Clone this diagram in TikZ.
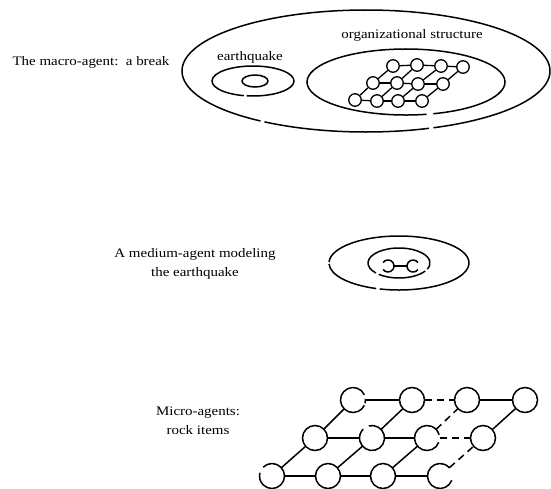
\documentclass[tikz,border=0pt]{standalone}
\usepackage{fontspec}
\setmainfont{Liberation Serif}[FakeStretch=1.15]
\usetikzlibrary{shapes.geometric}
\begin{document}
\begin{tikzpicture}[x=1pt,y=-1pt,
  lbl/.style={font=\fontsize{13}{19}\selectfont, inner sep=0pt, align=center},
  big/.style={line width=1.5pt},
  rock/.style={ellipse, draw, line width=1.5pt, minimum width=25pt, minimum height=25pt, inner sep=0pt},
  rockg/.style={ellipse, minimum width=25pt, minimum height=25pt, inner sep=0pt},
  orgn/.style={circle, draw, line width=1.3pt, minimum size=12.5pt, inner sep=0pt},
  medn/.style={circle, minimum size=12pt, inner sep=0pt},
  link/.style={line width=1.5pt},
  dlink/.style={line width=1.5pt, dash pattern=on 7pt off 5pt},
  olink/.style={line width=1.3pt}
]
\useasboundingbox (0,0) rectangle (551,488);

% ---------- macro agent ----------
\node[lbl] (tmacro) at (91,62) {The macro-agent:\ \ a break};
\coordinate (cbig) at (366,71);
\draw[big] (cbig) ++(125:184 and 61) arc[start angle=125, end angle=428.5, x radius=184, y radius=61];
\draw[big] (cbig) ++(70:184 and 61) arc[start angle=70, end angle=123.5, x radius=184, y radius=61];

% earthquake
\node[lbl] (teq) at (250,57) {earthquake};
\coordinate (ceq) at (253,81);
\draw[big] (ceq) ++(103:41 and 15) arc[start angle=103, end angle=459, x radius=41, y radius=15];
\coordinate (ceqi) at (255,81);
\draw[big] (ceqi) ellipse[x radius=13, y radius=6];

% organizational structure
\node[lbl] (torg) at (412,35) {organizational structure};
\coordinate (corg) at (406,82);
\draw[big] (corg) ++(78:99 and 33) arc[start angle=78, end angle=434, x radius=99, y radius=33];

\foreach \n/\x/\y in {o00/393/66, o01/417/65, o02/441/66, o03/463/67,
                      o10/373/83, o11/397/83, o12/418/84, o13/443/84,
                      o20/355/100, o21/377/101, o22/398/101, o23/422/101}
  \node[orgn] (\n) at (\x,\y) {};
\foreach \r in {0,1,2}{
  \draw[olink] (o\r0) -- (o\r1);
  \draw[olink] (o\r1) -- (o\r2);
  \draw[olink] (o\r2) -- (o\r3);
}
\foreach \c in {0,1,2,3}{
  \draw[olink] (o2\c) -- (o1\c);
  \draw[olink] (o1\c) -- (o0\c);
}

% ---------- medium agent ----------
\node[lbl] (tmed) at (195,264) {A medium-agent modeling\\the earthquake};
\coordinate (cmed) at (399,263);
\draw[big] (cmed) ++(182:70 and 27) arc[start angle=182, end angle=466, x radius=70, y radius=27];
\draw[big] (cmed) ++(109:70 and 27) arc[start angle=109, end angle=178, x radius=70, y radius=27];
\draw[big] (cmed) ++(32:31 and 15) arc[start angle=32, end angle=131, x radius=31, y radius=15];
\draw[big] (cmed) ++(138:31 and 15) arc[start angle=138, end angle=384, x radius=31, y radius=15];
\node[medn] (m1) at (388,266) {};
\node[medn] (m2) at (413,266) {};
\draw[big] (m1.center) ++(215:6) arc[start angle=215, end angle=505, radius=6];
\draw[big] (m2.center) ++(35:6) arc[start angle=35, end angle=325, radius=6];
\draw[big] (m1) -- (m2);

% ---------- micro agents ----------
\node[lbl] (tmicro) at (198,421) {Micro-agents:\\rock items};

\node[rockg] (r00) at (353,400) {};
\node[rock]  (r01) at (412,400) {};
\node[rock]  (r02) at (467,400) {};
\node[rock]  (r03) at (525,400) {};
\node[rock]  (r10) at (315,438) {};
\node[rockg] (r11) at (372,438) {};
\node[rockg] (r12) at (427,438) {};
\node[rock]  (r13) at (483,438) {};
\node[rockg] (r20) at (272,476) {};
\node[rock]  (r21) at (328,476) {};
\node[rock]  (r22) at (383,476) {};
\node[rockg] (r23) at (440,476) {};

\draw[link] (r00.center) ++(-25:12.5) arc[start angle=-25, end angle=-335, radius=12.5];
\draw[link] (r00.center) ++(-5:12.5) arc[start angle=-5, end angle=15, radius=12.5];
\draw[link] (r11.center) ++(255:12.5) arc[start angle=255, end angle=585, radius=12.5];
\draw[link] (r12.center) ++(20:12.5) arc[start angle=20, end angle=345, radius=12.5];
\draw[link] (r20.center) ++(225:12.5) arc[start angle=225, end angle=555, radius=12.5];
\draw[link] (r23.center) ++(20:12.5) arc[start angle=20, end angle=320, radius=12.5];

\draw[link] (r00) -- (r01);
\draw[dlink] (r01) -- (r02);
\draw[link] (r02) -- (r03);
\draw[link] (r10) -- (r11);
\draw[link] (r11) -- (r12);
\draw[dlink] (r12) -- (r13);
\draw[link] (r20) -- (r21);
\draw[link] (r21) -- (r22);
\draw[link] (r22) -- (r23);

\draw[link] (r20) -- (r10);
\draw[link] (r21) -- (r11);
\draw[link] (r22) -- (r12);
\draw[dlink] (r23) -- (r13);
\draw[link] (r10) -- (r00);
\draw[link] (r11) -- (r01);
\draw[dlink] (r12) -- (r02);
\draw[link] (r13) -- (r03);
\end{tikzpicture}
\end{document}
